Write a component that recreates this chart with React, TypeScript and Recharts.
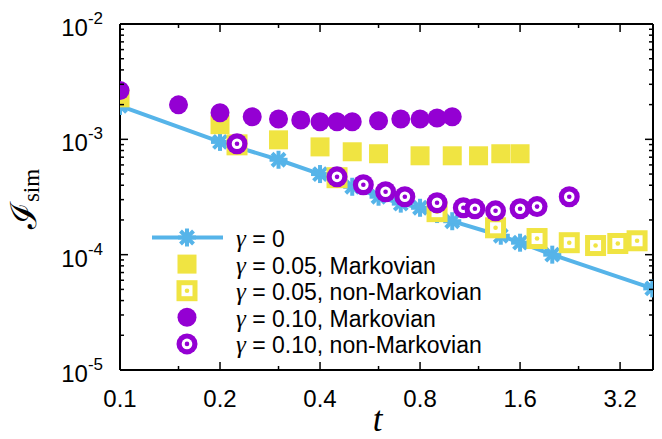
import { ScatterChart, Scatter, XAxis, YAxis, Legend } from "recharts";

const BLUE = "#56b4e9";
const YELLOW = "#f0e442";
const PURPLE = "#9400d3";
const SANS = "'Liberation Sans', Arial, Helvetica, sans-serif";
const SERIF = "'Liberation Serif', 'DejaVu Serif', 'Times New Roman', serif";

// gamma = 0
const T_G0 = [0.1, 0.2, 0.3, 0.4, 0.5, 0.6, 0.7, 0.8, 0.9, 1.0, 1.4, 1.6, 2.0, 4.0];
const I_G0 = [1.95e-3, 9.5e-4, 6.65e-4, 5.0e-4, 3.88e-4, 3.18e-4, 2.77e-4, 2.55e-4, 2.25e-4, 1.95e-4, 1.46e-4, 1.27e-4, 1.0e-4, 5.1e-5];

// gamma = 0.05, Markovian
const T_G05_M = [0.1, 0.2, 0.3, 0.4, 0.5, 0.6, 0.8, 1.0, 1.2, 1.4, 1.6];
const I_G05_M = [2.29e-3, 1.34e-3, 9.9e-4, 8.6e-4, 7.8e-4, 7.5e-4, 7.2e-4, 7.2e-4, 7.2e-4, 7.5e-4, 7.5e-4];

// gamma = 0.05, non-Markovian
const T_G05_NM = [0.225, 0.45, 0.9, 1.35, 1.8, 2.25, 2.7, 3.15, 3.6];
const I_G05_NM = [8.96e-4, 4.65e-4, 2.36e-4, 1.71e-4, 1.38e-4, 1.27e-4, 1.2e-4, 1.25e-4, 1.32e-4];

// gamma = 0.10, Markovian
const T_G10_M = [0.1, 0.15, 0.2, 0.25, 0.3, 0.35, 0.4, 0.45, 0.5, 0.6, 0.7, 0.8, 0.9, 1.0];
const I_G10_M = [2.65e-3, 1.99e-3, 1.7e-3, 1.57e-3, 1.5e-3, 1.47e-3, 1.42e-3, 1.42e-3, 1.42e-3, 1.45e-3, 1.5e-3, 1.5e-3, 1.53e-3, 1.57e-3];

// gamma = 0.10, non-Markovian
const T_G10_NM = [0.225, 0.45, 0.54, 0.63, 0.72, 0.9, 1.08, 1.17, 1.35, 1.6, 1.8, 2.25];
const I_G10_NM = [9.15e-4, 4.73e-4, 4.04e-4, 3.51e-4, 3.18e-4, 2.82e-4, 2.55e-4, 2.5e-4, 2.4e-4, 2.5e-4, 2.61e-4, 3.18e-4];

const X_MAJOR = [0.1, 0.2, 0.4, 0.8, 1.6, 3.2];
const X_MINOR = [0.15, 0.3, 0.6, 1.2, 2.4];
const Y_DECADES = [1e-5, 1e-4, 1e-3, 1e-2];
const Y_MINOR_MULT = [2, 3, 4, 5, 6, 7, 8, 9];

const LEGEND_LABELS = ["0", "0.05, Markovian", "0.05, non-Markovian", "0.10, Markovian", "0.10, non-Markovian"];

const X_TICKS = [...X_MAJOR, ...X_MINOR].sort((a, b) => a - b);
const Y_TICKS = [
  ...Y_DECADES,
  ...Y_DECADES.slice(0, 3).flatMap((d) => Y_MINOR_MULT.map((m) => m * d)),
].sort((a, b) => a - b);

const zip = (ts: number[], vs: number[]) => ts.map((t, i) => ({ t, v: vs[i] }));

const isYMajor = (v: number) => Y_DECADES.some((d) => Math.abs(v / d - 1) < 1e-6);

// markers
function Asterisk({ cx, cy }: any) {
  const r = 9;
  const d = 6.5;
  return (
    <g stroke={BLUE} strokeWidth={4}>
      <line x1={cx} y1={cy - r} x2={cx} y2={cy + r} />
      <line x1={cx - d} y1={cy - d} x2={cx + d} y2={cy + d} />
      <line x1={cx - d} y1={cy + d} x2={cx + d} y2={cy - d} />
      <line x1={cx - r} y1={cy} x2={cx + r} y2={cy} />
    </g>
  );
}

function FilledSquare({ cx, cy }: any) {
  return <rect x={cx - 9.5} y={cy - 9.5} width={19} height={19} fill={YELLOW} />;
}

function OpenSquare({ cx, cy }: any) {
  return (
    <g>
      <rect x={cx - 10.5} y={cy - 10.5} width={21} height={21} fill={YELLOW} />
      <rect x={cx - 5.5} y={cy - 5.5} width={11} height={11} fill="#fff" />
      <circle cx={cx} cy={cy} r={2.3} fill={YELLOW} />
    </g>
  );
}

function FilledCircle({ cx, cy }: any) {
  return <circle cx={cx} cy={cy} r={9.5} fill={PURPLE} />;
}

function OpenCircle({ cx, cy }: any) {
  return (
    <g>
      <circle cx={cx} cy={cy} r={10.5} fill={PURPLE} />
      <circle cx={cx} cy={cy} r={5.3} fill="#fff" />
      <circle cx={cx} cy={cy} r={2.3} fill={PURPLE} />
    </g>
  );
}

// axis ticks, all drawn inward
function BottomTick({ x, y, payload }: any) {
  const major = X_MAJOR.includes(payload.value);
  return (
    <g>
      <line x1={x} x2={x} y1={y} y2={y - (major ? 8 : 4)} stroke="#000" strokeWidth={1.5} />
      {major && (
        <text x={x} y={y + 37} textAnchor="middle" fontSize={24} fontFamily={SANS} fill="#000">
          {payload.value}
        </text>
      )}
    </g>
  );
}

function TopTick({ x, y, payload }: any) {
  const major = X_MAJOR.includes(payload.value);
  return <line x1={x} x2={x} y1={y} y2={y + (major ? 8 : 4)} stroke="#000" strokeWidth={1.5} />;
}

function LeftTick({ x, y, payload }: any) {
  const major = isYMajor(payload.value);
  const exp = Math.round(Math.log10(payload.value));
  return (
    <g>
      <line x1={x} x2={x + (major ? 8 : 4)} y1={y} y2={y} stroke="#000" strokeWidth={1.5} />
      {major && (
        <text x={x - 17} y={y + 12} textAnchor="end" fontSize={24} fontFamily={SANS} fill="#000">
          10
          <tspan fontSize={17} dy={-12}>{exp}</tspan>
        </text>
      )}
    </g>
  );
}

function RightTick({ x, y, payload }: any) {
  const major = isYMajor(payload.value);
  return <line x1={x} x2={x - (major ? 8 : 4)} y1={y} y2={y} stroke="#000" strokeWidth={1.5} />;
}

function YTitle({ viewBox }: any) {
  const x = viewBox.x + viewBox.width - 84;
  const y = viewBox.y + viewBox.height / 2 + 2;
  return (
    <text transform={`translate(${x},${y}) rotate(-90)`} textAnchor="middle" fill="#000" fontFamily={SERIF}>
      <tspan fontSize={36}>ℐ</tspan>
      <tspan fontSize={23} dy={3}>sim</tspan>
    </text>
  );
}

function XTitle({ viewBox }: any) {
  return (
    <text
      x={viewBox.x + viewBox.width / 2 - 9}
      y={viewBox.y + 61}
      textAnchor="middle"
      fontSize={35}
      fontStyle="italic"
      fontFamily={SERIF}
      fill="#000"
    >
      t
    </text>
  );
}

const LEGEND_LEFT = 140;
const LEGEND_TOP = 222;
const LEGEND_MARKERS = [Asterisk, FilledSquare, OpenSquare, FilledCircle, OpenCircle];

function LegendBox() {
  return (
    <svg width={360} height={140} style={{ display: "block" }}>
      {LEGEND_LABELS.map((label, i) => {
        const cy = 15.5 + i * 26.6;
        const Marker = LEGEND_MARKERS[i];
        return (
          <g key={label}>
            {i === 0 && <line x1={12} x2={83} y1={cy} y2={cy} stroke={BLUE} strokeWidth={4} />}
            <Marker cx={47} cy={cy} />
            <text x={96} y={cy + 9.5} fontSize={23} fontFamily={SANS} fill="#000">
              <tspan fontFamily={SERIF} fontStyle="italic" fontSize={25}>γ</tspan>
              {` = ${label}`}
            </text>
          </g>
        );
      })}
    </svg>
  );
}

const AXIS_LINE = { stroke: "#000", strokeWidth: 2 };

export default function App() {
  return (
    <div style={{ position: "absolute", left: 0, top: 0, background: "#fff" }}>
      <ScatterChart width={662} height={439} margin={{ top: 23, right: 8, bottom: 68, left: 119 }}>
        <XAxis
          xAxisId="b"
          type="number"
          dataKey="t"
          scale="log"
          domain={[0.1, 4.02]}
          allowDataOverflow
          ticks={X_TICKS}
          interval={0}
          height={1}
          tickSize={0}
          tickMargin={0}
          tickLine={false}
          axisLine={AXIS_LINE}
          tick={(p: any) => <BottomTick {...p} />}
          label={(p: any) => <XTitle {...p} />}
        />
        <XAxis
          xAxisId="t"
          orientation="top"
          type="number"
          dataKey="t"
          scale="log"
          domain={[0.1, 4.02]}
          allowDataOverflow
          ticks={X_TICKS}
          interval={0}
          height={1}
          tickSize={0}
          tickMargin={0}
          tickLine={false}
          axisLine={AXIS_LINE}
          tick={(p: any) => <TopTick {...p} />}
        />
        <YAxis
          yAxisId="l"
          type="number"
          dataKey="v"
          scale="log"
          domain={[1e-5, 1e-2]}
          allowDataOverflow
          ticks={Y_TICKS}
          interval={0}
          width={1}
          tickSize={0}
          tickMargin={0}
          tickLine={false}
          axisLine={AXIS_LINE}
          tick={(p: any) => <LeftTick {...p} />}
          label={(p: any) => <YTitle {...p} />}
        />
        <YAxis
          yAxisId="r"
          orientation="right"
          type="number"
          dataKey="v"
          scale="log"
          domain={[1e-5, 1e-2]}
          allowDataOverflow
          ticks={Y_TICKS}
          interval={0}
          width={1}
          tickSize={0}
          tickMargin={0}
          tickLine={false}
          axisLine={AXIS_LINE}
          tick={(p: any) => <RightTick {...p} />}
        />
        <Legend
          layout="vertical"
          align="center"
          verticalAlign="middle"
          content={() => <LegendBox />}
          wrapperStyle={{ left: LEGEND_LEFT, top: LEGEND_TOP, width: 360, height: 140 }}
        />
        <Scatter
          name="γ = 0"
          data={zip(T_G0, I_G0)}
          xAxisId="b"
          yAxisId="l"
          line={{ stroke: BLUE, strokeWidth: 4 }}
          lineType="joint"
          shape={(p: any) => <Asterisk {...p} />}
          isAnimationActive={false}
        />
        <Scatter
          name="γ = 0.05, Markovian"
          data={zip(T_G05_M, I_G05_M)}
          xAxisId="b"
          yAxisId="l"
          shape={(p: any) => <FilledSquare {...p} />}
          isAnimationActive={false}
        />
        <Scatter
          name="γ = 0.05, non-Markovian"
          data={zip(T_G05_NM, I_G05_NM)}
          xAxisId="b"
          yAxisId="l"
          shape={(p: any) => <OpenSquare {...p} />}
          isAnimationActive={false}
        />
        <Scatter
          name="γ = 0.10, Markovian"
          data={zip(T_G10_M, I_G10_M)}
          xAxisId="b"
          yAxisId="l"
          shape={(p: any) => <FilledCircle {...p} />}
          isAnimationActive={false}
        />
        <Scatter
          name="γ = 0.10, non-Markovian"
          data={zip(T_G10_NM, I_G10_NM)}
          xAxisId="b"
          yAxisId="l"
          shape={(p: any) => <OpenCircle {...p} />}
          isAnimationActive={false}
        />
      </ScatterChart>
    </div>
  );
}
